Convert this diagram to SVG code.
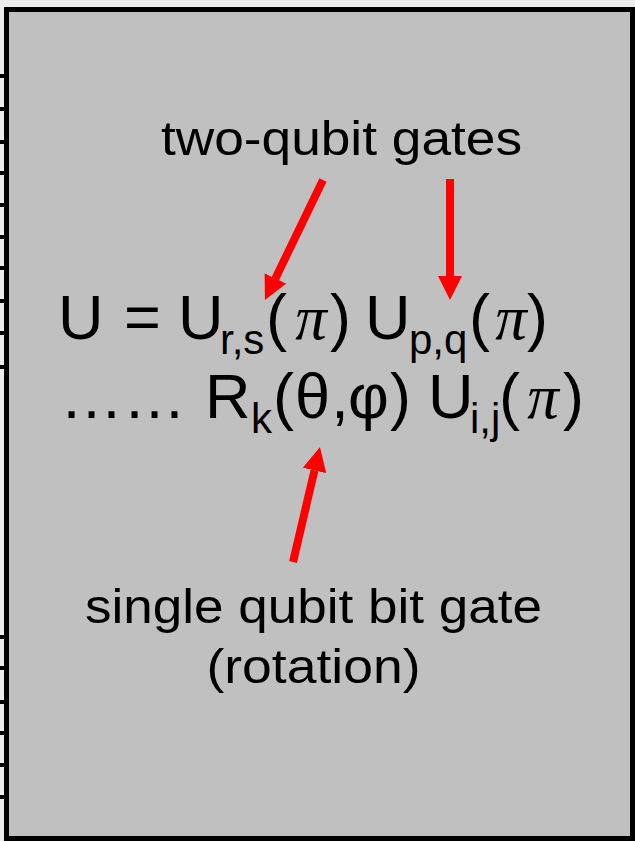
<svg xmlns="http://www.w3.org/2000/svg" width="635" height="841" viewBox="0 0 635 841">
  <style>
    .lbl { font-family: "Liberation Sans", Arial, sans-serif; font-size: 48px; fill: #000; }
    .eq { font-family: "Liberation Sans", Arial, sans-serif; font-size: 63px; fill: #000; }
    .sub { font-family: "Liberation Sans", Arial, sans-serif; font-size: 42px; fill: #000; }
    .pi { font-family: "Liberation Serif", "Times New Roman", serif; font-style: italic; font-size: 63px; fill: #000; }
    .arrow { stroke: #ff0000; stroke-width: 8; fill: none; marker-end: url(#head); }
    .tick { stroke: #000; stroke-width: 4; }
  </style>
  <defs>
    <marker id="head" viewBox="0 0 10 10" refX="0" refY="5" markerWidth="3" markerHeight="3" markerUnits="strokeWidth" orient="auto">
      <path d="M0,0 L10,5 L0,10 Z" fill="#ff0000"/>
    </marker>
  </defs>

  <rect x="0" y="0" width="635" height="841" fill="#ececec"/>
  <g id="frame">
    <rect x="6.5" y="9.5" width="626" height="829" fill="#c0c0c0" stroke="#000" stroke-width="5"/>
    <g class="tick">
      <line x1="0" y1="76" x2="6" y2="76"/>
      <line x1="0" y1="109" x2="6" y2="109"/>
      <line x1="0" y1="142" x2="6" y2="142"/>
      <line x1="0" y1="173" x2="6" y2="173"/>
      <line x1="0" y1="205" x2="6" y2="205"/>
      <line x1="0" y1="237" x2="6" y2="237"/>
      <line x1="0" y1="268" x2="6" y2="268"/>
      <line x1="0" y1="301" x2="6" y2="301"/>
      <line x1="0" y1="333" x2="6" y2="333"/>
      <line x1="0" y1="367" x2="6" y2="367"/>
      <line x1="0" y1="637" x2="6" y2="637"/>
      <line x1="0" y1="668" x2="6" y2="668"/>
      <line x1="0" y1="702" x2="6" y2="702"/>
      <line x1="0" y1="733" x2="6" y2="733"/>
      <line x1="0" y1="765" x2="6" y2="765"/>
      <line x1="0" y1="797" x2="6" y2="797"/>
    </g>
  </g>

  <g id="label-two-qubit">
    <text class="lbl" x="161" y="155" textLength="361" lengthAdjust="spacingAndGlyphs">two-qubit gates</text>
  </g>

  <g id="equation-line1">
    <text class="eq" x="58" y="339">U</text>
    <text class="eq" x="124" y="339">=</text>
    <text class="eq" x="178" y="339">U</text>
    <text class="sub" x="220" y="354">r,s</text>
    <text class="eq" x="266" y="339">(</text>
    <text class="pi" x="311" y="339" text-anchor="middle">π</text>
    <text class="eq" x="330" y="339">)</text>
    <text class="eq" x="365" y="339">U</text>
    <text class="sub" x="409" y="354">p,q</text>
    <text class="eq" x="469" y="339">(</text>
    <text class="pi" x="511" y="339" text-anchor="middle">π</text>
    <text class="eq" x="527" y="339">)</text>
  </g>

  <g id="equation-line2">
    <text class="eq" x="60" y="418">……</text>
    <text class="eq" x="205" y="418">R</text>
    <text class="sub" x="251" y="433">k</text>
    <text class="eq" x="273" y="418">(</text>
    <text class="eq" x="312.5" y="418" text-anchor="middle">θ</text>
    <text class="eq" x="340" y="418" text-anchor="middle">,</text>
    <text class="eq" x="368.5" y="418" text-anchor="middle">φ</text>
    <text class="eq" x="390" y="418">)</text>
    <text class="eq" x="428" y="418">U</text>
    <text class="sub" x="470" y="433">i,j</text>
    <text class="eq" x="499" y="418">(</text>
    <text class="pi" x="543" y="418" text-anchor="middle">π</text>
    <text class="eq" x="563" y="418">)</text>
  </g>

  <g id="label-single-qubit">
    <text class="lbl" x="85" y="623" textLength="457" lengthAdjust="spacingAndGlyphs">single qubit bit gate</text>
    <text class="lbl" x="206.5" y="683" textLength="214" lengthAdjust="spacingAndGlyphs">(rotation)</text>
  </g>

  <g id="connectors">
    <line class="arrow" x1="323" y1="180" x2="275.4" y2="278.4"/>
    <line class="arrow" x1="450" y1="179" x2="450" y2="276"/>
    <line class="arrow" x1="293" y1="562" x2="314.5" y2="470.4"/>
  </g>
</svg>
